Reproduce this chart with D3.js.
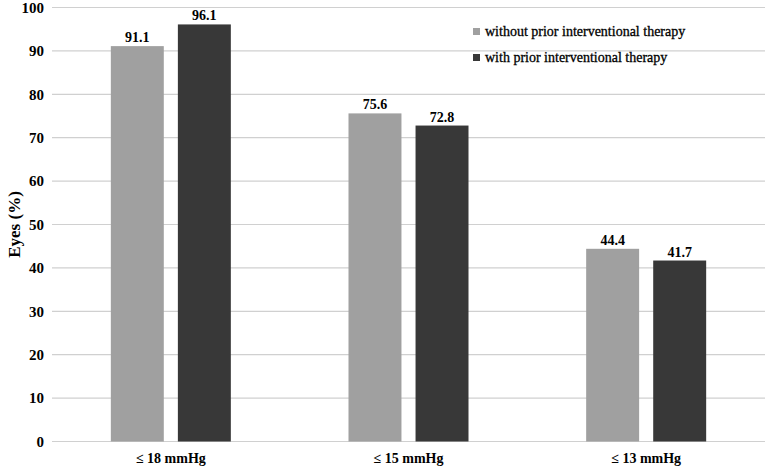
<!DOCTYPE html>
<html><head><meta charset="utf-8">
<script src="https://cdn.jsdelivr.net/npm/d3@7"></script>
<style>body{margin:0;background:#fff}svg{display:block}text{font-family:"Liberation Serif","Times New Roman",serif;fill:#000}</style>
</head><body>
<svg id="c" width="768" height="469"></svg>
<script>
const categories = ["≤ 18 mmHg", "≤ 15 mmHg", "≤ 13 mmHg"];
const seriesNames = ["without prior interventional therapy", "with prior interventional therapy"];
const withoutPrior = [91.1, 75.6, 44.4];
const withPrior = [96.1, 72.8, 41.7];
const yTicks = [0,10,20,30,40,50,60,70,80,90,100];
const colors = ["#a0a0a0", "#383838"];

const svg = d3.select("#c");
const L = 52, R = 765, T = 7.5, B = 441.5;
const x = d3.scaleBand().domain(categories).range([L, R]);
const y = d3.scaleLinear().domain([0, 100]).range([B, T]);
const sub = d3.scaleBand().domain([0,1]).range([-60, 60]).paddingInner(0.21);

svg.append("g").selectAll("line").data(yTicks).join("line")
  .attr("x1", L).attr("x2", R).attr("y1", d => y(d)).attr("y2", d => y(d))
  .attr("stroke", "#d0d0d0").attr("stroke-width", 1.2);

const yAxis = svg.append("g").attr("transform", `translate(${L},0)`)
  .call(d3.axisLeft(y).tickValues(yTicks).tickSize(0).tickPadding(8));
yAxis.select(".domain").remove();
yAxis.selectAll("text").style("font-size", "15px").style("font-weight", "bold")
  .style("font-family", '"Liberation Serif",serif');

const series = [withoutPrior, withPrior];
series.forEach((vals, si) => {
  const g = svg.append("g");
  g.selectAll("rect").data(categories).join("rect")
    .attr("x", (c) => x(c) + x.bandwidth()/2 + sub(si))
    .attr("width", sub.bandwidth())
    .attr("y", (c,i) => y(vals[i]))
    .attr("height", (c,i) => B - y(vals[i]))
    .attr("fill", colors[si]);
  g.selectAll("text").data(categories).join("text")
    .attr("x", (c) => x(c) + x.bandwidth()/2 + sub(si) + sub.bandwidth()/2)
    .attr("y", (c,i) => y(vals[i]) - 4)
    .attr("text-anchor", "middle")
    .style("font-size", "14px").style("font-weight", "bold")
    .text((c,i) => vals[i].toFixed(1));
});

const xAxis = svg.append("g").attr("transform", `translate(0,${B})`)
  .call(d3.axisBottom(x).tickSize(0).tickPadding(12));
xAxis.select(".domain").remove();
xAxis.selectAll("text").style("font-size", "14px").style("font-weight", "bold")
  .style("font-family", '"Liberation Serif",serif');

svg.append("text").attr("transform", `translate(20,${(T+B)/2}) rotate(-90)`)
  .attr("text-anchor", "middle").style("font-size", "17px").style("font-weight", "bold")
  .text("Eyes (%)");

const leg = svg.append("g").attr("transform", "translate(473,28)");
seriesNames.forEach((n, i) => {
  leg.append("rect").attr("x", 0).attr("y", i*26).attr("width", 7).attr("height", 7).attr("fill", colors[i]);
  leg.append("text").attr("x", 12).attr("y", i*26 + 8).style("font-size", "14px")
    .style("stroke", "#000").style("stroke-width", 0.3).text(n);
});
</script>
</body></html>
